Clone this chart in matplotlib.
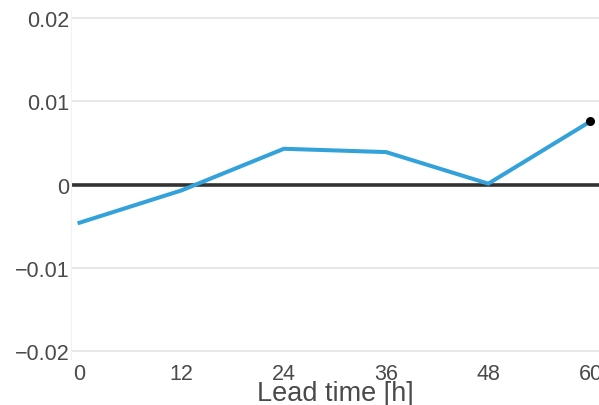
import numpy as np
import matplotlib.pyplot as plt

# datos
lead_time = [0, 12, 24, 36, 48, 60]
valores = [-0.0046, -0.0007, 0.0043, 0.0039, 0.0001, 0.0076]
y_ticks = [-0.02, -0.01, 0, 0.01, 0.02]
y_labels = ['\u22120.02', '\u22120.01', '0', '0.01', '0.02']

plt.rcParams['font.family'] = ['Liberation Sans', 'DejaVu Sans']

fig = plt.figure(figsize=(5.99, 4.06), dpi=100)
ax = fig.add_axes([71/599, 1 - 360/406, 1 - 71/599, (360 - 11)/406])

ax.axhline(0, color='#333333', lw=2.6, zorder=2)
ax.plot(lead_time, valores, color='#34a2da', lw=2.9, zorder=3)
ax.plot(lead_time[-1], valores[-1], 'o', color='black', ms=5.5, zorder=4, clip_on=False)

ax.set_xlim(-1, 61)
ax.set_ylim(-0.021, 0.021)
ax.set_xticks(lead_time)
ax.set_yticks(y_ticks)
ax.set_yticklabels(y_labels)
ax.grid(axis='y', color='#e6e6e6', lw=1.3)
ax.set_axisbelow(True)
for s in ax.spines.values():
    s.set_visible(False)
ax.spines['left'].set_visible(True)  # borde izquierdo muy tenue
ax.spines['left'].set_color('#f2f2f2')
ax.spines['left'].set_linewidth(0.8)
ax.tick_params(length=0, labelsize=15.5, colors='#4a4a4a')
ax.tick_params(axis='y', pad=1)
ax.tick_params(axis='x', pad=3)
ax.set_xlabel('Lead time [h]', fontsize=19.5, color='#4a4a4a', labelpad=-3)

fig.savefig('out.png', dpi=100)
